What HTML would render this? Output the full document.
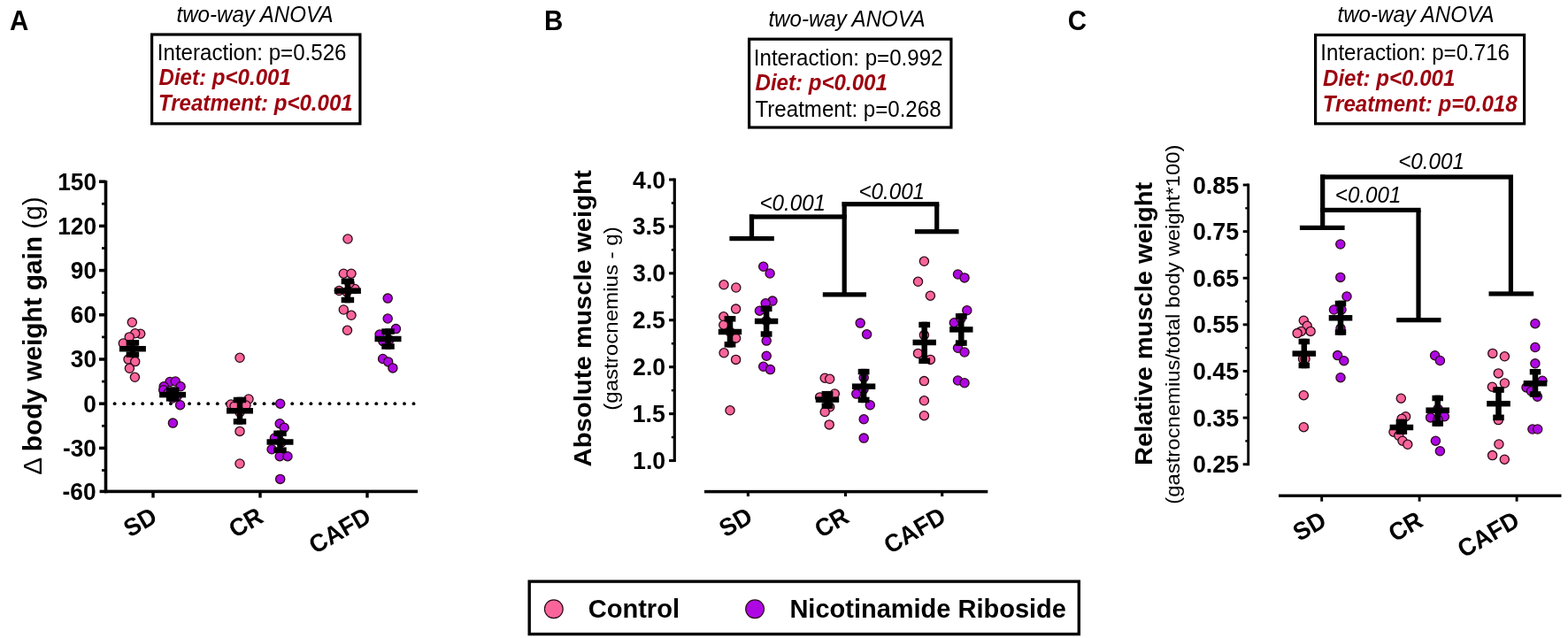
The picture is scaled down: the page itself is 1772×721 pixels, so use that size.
<!DOCTYPE html>
<html><head><meta charset="utf-8"><title>Figure</title>
<style>
html,body{margin:0;padding:0;background:#fff;}
body{width:1772px;height:721px;overflow:hidden;}
svg{display:block;}
text{font-family:"Liberation Sans", Arial, sans-serif;}
</style></head>
<body>
<svg width="1772" height="721" viewBox="0 0 1772 721">
<rect width="1772" height="721" fill="#fff"/>
<text transform="translate(11.06 34) scale(1 1.04)" font-size="29.5" font-weight="bold" font-style="normal" fill="#000">A</text>
<text transform="translate(615.08 34) scale(1 1.04)" font-size="29.5" font-weight="bold" font-style="normal" fill="#000">B</text>
<text transform="translate(1206.72 34.3) scale(1 1.04)" font-size="29.5" font-weight="bold" font-style="normal" fill="#000">C</text>
<text transform="translate(199.52 24.5) scale(1 1.04)" font-size="24.1" font-weight="normal" font-style="italic" fill="#000">two-way ANOVA</text>
<rect x="171.6" y="39" width="235.3" height="100.8" fill="none" stroke="#000" stroke-width="3.2"/>
<text transform="translate(177.83 68.3) scale(1 1.04)" font-size="24.1" font-weight="normal" font-style="normal" fill="#000">Interaction: p=0.526</text>
<text transform="translate(179.52 96) scale(1 1.04)" font-size="24.1" font-weight="bold" font-style="italic" fill="#9c000e">Diet: p&lt;0.001</text>
<text transform="translate(178.91 125.4) scale(1 1.04)" font-size="24.1" font-weight="bold" font-style="italic" fill="#9c000e">Treatment: p&lt;0.001</text>
<text transform="translate(868.42 30.2) scale(1 1.04)" font-size="24.1" font-weight="normal" font-style="italic" fill="#000">two-way ANOVA</text>
<rect x="846.6" y="44.2" width="228.3" height="99.8" fill="none" stroke="#000" stroke-width="3.2"/>
<text transform="translate(851.83 73.8) scale(1 1.04)" font-size="24.1" font-weight="normal" font-style="normal" fill="#000">Interaction: p=0.992</text>
<text transform="translate(853.52 102) scale(1 1.04)" font-size="24.1" font-weight="bold" font-style="italic" fill="#9c000e">Diet: p&lt;0.001</text>
<text transform="translate(853.52 131.9) scale(1 1.04)" font-size="24.1" font-weight="normal" font-style="normal" fill="#000">Treatment: p=0.268</text>
<text transform="translate(1511.52 25) scale(1 1.04)" font-size="24.1" font-weight="normal" font-style="italic" fill="#000">two-way ANOVA</text>
<rect x="1486.6" y="39.5" width="236" height="100.3" fill="none" stroke="#000" stroke-width="3.2"/>
<text transform="translate(1492.33 68.3) scale(1 1.04)" font-size="24.1" font-weight="normal" font-style="normal" fill="#000">Interaction: p=0.716</text>
<text transform="translate(1495.02 97.3) scale(1 1.04)" font-size="24.1" font-weight="bold" font-style="italic" fill="#9c000e">Diet: p&lt;0.001</text>
<text transform="translate(1494.81 126) scale(1 1.04)" font-size="24.1" font-weight="bold" font-style="italic" fill="#9c000e">Treatment: p=0.018</text>
<rect x="117.7" y="204" width="3.6" height="353.2" fill="#000"/>
<rect x="112" y="203.45" width="7.5" height="3.5" fill="#000"/>
<rect x="112" y="253.65" width="7.5" height="3.5" fill="#000"/>
<rect x="112" y="303.85" width="7.5" height="3.5" fill="#000"/>
<rect x="112" y="354.05" width="7.5" height="3.5" fill="#000"/>
<rect x="112" y="404.25" width="7.5" height="3.5" fill="#000"/>
<rect x="112" y="454.45" width="7.5" height="3.5" fill="#000"/>
<rect x="112" y="504.65" width="7.5" height="3.5" fill="#000"/>
<rect x="115" y="228.95" width="4.5" height="2.7" fill="#000"/>
<rect x="115" y="279.15" width="4.5" height="2.7" fill="#000"/>
<rect x="115" y="329.35" width="4.5" height="2.7" fill="#000"/>
<rect x="115" y="379.55" width="4.5" height="2.7" fill="#000"/>
<rect x="115" y="429.75" width="4.5" height="2.7" fill="#000"/>
<rect x="115" y="479.95" width="4.5" height="2.7" fill="#000"/>
<rect x="115" y="530.15" width="4.5" height="2.7" fill="#000"/>
<text transform="translate(65.16 214.57) scale(1 1.04)" font-size="26.3" font-weight="bold" font-style="normal" fill="#000">150</text>
<text transform="translate(65.16 264.77) scale(1 1.04)" font-size="26.3" font-weight="bold" font-style="normal" fill="#000">120</text>
<text transform="translate(79.76 314.97) scale(1 1.04)" font-size="26.3" font-weight="bold" font-style="normal" fill="#000">90</text>
<text transform="translate(79.76 365.17) scale(1 1.04)" font-size="26.3" font-weight="bold" font-style="normal" fill="#000">60</text>
<text transform="translate(79.76 415.37) scale(1 1.04)" font-size="26.3" font-weight="bold" font-style="normal" fill="#000">30</text>
<text transform="translate(94.36 465.57) scale(1 1.04)" font-size="26.3" font-weight="bold" font-style="normal" fill="#000">0</text>
<text transform="translate(70.95 515.77) scale(1 1.04)" font-size="26.3" font-weight="bold" font-style="normal" fill="#000">-30</text>
<text transform="translate(70.55 564.87) scale(1 1.04)" font-size="26.3" font-weight="bold" font-style="normal" fill="#000">-60</text>
<rect x="112.6" y="553.65" width="6.9" height="3.5" fill="#000"/>
<rect x="118" y="553.6" width="354" height="3.6" fill="#000"/>
<rect x="171.3" y="555.4" width="3.4" height="7.1" fill="#000"/>
<rect x="292.3" y="555.4" width="3.4" height="7.1" fill="#000"/>
<rect x="413.3" y="555.4" width="3.4" height="7.1" fill="#000"/>
<circle cx="129.6" cy="456.2" r="1.9" fill="#000"/>
<circle cx="140.16" cy="456.2" r="1.9" fill="#000"/>
<circle cx="150.72" cy="456.2" r="1.9" fill="#000"/>
<circle cx="161.28" cy="456.2" r="1.9" fill="#000"/>
<circle cx="171.84" cy="456.2" r="1.9" fill="#000"/>
<circle cx="182.4" cy="456.2" r="1.9" fill="#000"/>
<circle cx="192.96" cy="456.2" r="1.9" fill="#000"/>
<circle cx="203.52" cy="456.2" r="1.9" fill="#000"/>
<circle cx="214.08" cy="456.2" r="1.9" fill="#000"/>
<circle cx="224.64" cy="456.2" r="1.9" fill="#000"/>
<circle cx="235.2" cy="456.2" r="1.9" fill="#000"/>
<circle cx="245.76" cy="456.2" r="1.9" fill="#000"/>
<circle cx="256.32" cy="456.2" r="1.9" fill="#000"/>
<circle cx="266.88" cy="456.2" r="1.9" fill="#000"/>
<circle cx="277.44" cy="456.2" r="1.9" fill="#000"/>
<circle cx="288" cy="456.2" r="1.9" fill="#000"/>
<circle cx="298.56" cy="456.2" r="1.9" fill="#000"/>
<circle cx="309.12" cy="456.2" r="1.9" fill="#000"/>
<circle cx="319.68" cy="456.2" r="1.9" fill="#000"/>
<circle cx="330.24" cy="456.2" r="1.9" fill="#000"/>
<circle cx="340.8" cy="456.2" r="1.9" fill="#000"/>
<circle cx="351.36" cy="456.2" r="1.9" fill="#000"/>
<circle cx="361.92" cy="456.2" r="1.9" fill="#000"/>
<circle cx="372.48" cy="456.2" r="1.9" fill="#000"/>
<circle cx="383.04" cy="456.2" r="1.9" fill="#000"/>
<circle cx="393.6" cy="456.2" r="1.9" fill="#000"/>
<circle cx="404.16" cy="456.2" r="1.9" fill="#000"/>
<circle cx="414.72" cy="456.2" r="1.9" fill="#000"/>
<circle cx="425.28" cy="456.2" r="1.9" fill="#000"/>
<circle cx="435.84" cy="456.2" r="1.9" fill="#000"/>
<circle cx="446.4" cy="456.2" r="1.9" fill="#000"/>
<circle cx="456.96" cy="456.2" r="1.9" fill="#000"/>
<circle cx="467.52" cy="456.2" r="1.9" fill="#000"/>
<text transform="translate(179.3 589.12) rotate(-30) scale(1 1.04)" font-size="27" font-weight="bold" text-anchor="end">SD</text>
<text transform="translate(299.4 589.12) rotate(-30) scale(1 1.04)" font-size="27" font-weight="bold" text-anchor="end">CR</text>
<text transform="translate(421.2 589.12) rotate(-30) scale(1 1.04)" font-size="27" font-weight="bold" text-anchor="end">CAFD</text>
<rect x="760.7" y="201.5" width="3.2" height="320.5" fill="#000"/>
<rect x="756.1" y="201.45" width="6.2" height="3.1" fill="#000"/>
<rect x="756.1" y="254.38" width="6.2" height="3.1" fill="#000"/>
<rect x="756.1" y="307.3" width="6.2" height="3.1" fill="#000"/>
<rect x="756.1" y="360.22" width="6.2" height="3.1" fill="#000"/>
<rect x="756.1" y="413.15" width="6.2" height="3.1" fill="#000"/>
<rect x="756.1" y="466.07" width="6.2" height="3.1" fill="#000"/>
<rect x="756.1" y="519" width="6.2" height="3.1" fill="#000"/>
<rect x="758.8" y="228.21" width="3.5" height="2.5" fill="#000"/>
<rect x="758.8" y="281.14" width="3.5" height="2.5" fill="#000"/>
<rect x="758.8" y="334.06" width="3.5" height="2.5" fill="#000"/>
<rect x="758.8" y="386.99" width="3.5" height="2.5" fill="#000"/>
<rect x="758.8" y="439.91" width="3.5" height="2.5" fill="#000"/>
<rect x="758.8" y="492.84" width="3.5" height="2.5" fill="#000"/>
<text transform="translate(715.06 212.52) scale(1 1.04)" font-size="26.7" font-weight="bold" font-style="normal" fill="#000">4.0</text>
<text transform="translate(714.65 265.44) scale(1 1.04)" font-size="26.7" font-weight="bold" font-style="normal" fill="#000">3.5</text>
<text transform="translate(715.06 318.37) scale(1 1.04)" font-size="26.7" font-weight="bold" font-style="normal" fill="#000">3.0</text>
<text transform="translate(714.65 371.29) scale(1 1.04)" font-size="26.7" font-weight="bold" font-style="normal" fill="#000">2.5</text>
<text transform="translate(715.06 424.22) scale(1 1.04)" font-size="26.7" font-weight="bold" font-style="normal" fill="#000">2.0</text>
<text transform="translate(714.65 477) scale(1 1.04)" font-size="26.7" font-weight="bold" font-style="normal" fill="#000">1.5</text>
<text transform="translate(715.06 530.07) scale(1 1.04)" font-size="26.7" font-weight="bold" font-style="normal" fill="#000">1.0</text>
<rect x="796" y="553.85" width="320.3" height="3.5" fill="#000"/>
<rect x="843.85" y="555.6" width="3.1" height="5.4" fill="#000"/>
<rect x="953.95" y="555.6" width="3.1" height="5.4" fill="#000"/>
<rect x="1063.15" y="555.6" width="3.1" height="5.4" fill="#000"/>
<text transform="translate(852.3 589.12) rotate(-30) scale(1 1.04)" font-size="27" font-weight="bold" text-anchor="end">SD</text>
<text transform="translate(961.4 589.12) rotate(-30) scale(1 1.04)" font-size="27" font-weight="bold" text-anchor="end">CR</text>
<text transform="translate(1070.8 589.12) rotate(-30) scale(1 1.04)" font-size="27" font-weight="bold" text-anchor="end">CAFD</text>
<rect x="1409.25" y="207.5" width="2.9" height="318.7" fill="#000"/>
<rect x="1404.7" y="207.55" width="6" height="2.9" fill="#000"/>
<rect x="1404.7" y="260.17" width="6" height="2.9" fill="#000"/>
<rect x="1404.7" y="312.79" width="6" height="2.9" fill="#000"/>
<rect x="1404.7" y="365.41" width="6" height="2.9" fill="#000"/>
<rect x="1404.7" y="418.03" width="6" height="2.9" fill="#000"/>
<rect x="1404.7" y="470.65" width="6" height="2.9" fill="#000"/>
<rect x="1404.7" y="523.27" width="6" height="2.9" fill="#000"/>
<rect x="1407.3" y="234.16" width="3.4" height="2.3" fill="#000"/>
<rect x="1407.3" y="286.78" width="3.4" height="2.3" fill="#000"/>
<rect x="1407.3" y="339.4" width="3.4" height="2.3" fill="#000"/>
<rect x="1407.3" y="392.02" width="3.4" height="2.3" fill="#000"/>
<rect x="1407.3" y="444.64" width="3.4" height="2.3" fill="#000"/>
<rect x="1407.3" y="497.26" width="3.4" height="2.3" fill="#000"/>
<text transform="translate(1347.94 218.56) scale(1 1.04)" font-size="26.8" font-weight="bold" font-style="normal" fill="#000">0.85</text>
<text transform="translate(1347.94 271.18) scale(1 1.04)" font-size="26.8" font-weight="bold" font-style="normal" fill="#000">0.75</text>
<text transform="translate(1347.94 323.8) scale(1 1.04)" font-size="26.8" font-weight="bold" font-style="normal" fill="#000">0.65</text>
<text transform="translate(1347.94 376.42) scale(1 1.04)" font-size="26.8" font-weight="bold" font-style="normal" fill="#000">0.55</text>
<text transform="translate(1347.94 429.04) scale(1 1.04)" font-size="26.8" font-weight="bold" font-style="normal" fill="#000">0.45</text>
<text transform="translate(1347.94 481.66) scale(1 1.04)" font-size="26.8" font-weight="bold" font-style="normal" fill="#000">0.35</text>
<text transform="translate(1347.94 534.28) scale(1 1.04)" font-size="26.8" font-weight="bold" font-style="normal" fill="#000">0.25</text>
<rect x="1445" y="558.55" width="319.5" height="3.3" fill="#000"/>
<rect x="1492.25" y="560.2" width="2.9" height="6.5" fill="#000"/>
<rect x="1602.65" y="560.2" width="2.9" height="6.5" fill="#000"/>
<rect x="1712.65" y="560.2" width="2.9" height="6.5" fill="#000"/>
<text transform="translate(1500.8 593.62) rotate(-30) scale(1 1.04)" font-size="27" font-weight="bold" text-anchor="end">SD</text>
<text transform="translate(1609.9 593.62) rotate(-30) scale(1 1.04)" font-size="27" font-weight="bold" text-anchor="end">CR</text>
<text transform="translate(1719.2 593.62) rotate(-30) scale(1 1.04)" font-size="27" font-weight="bold" text-anchor="end">CAFD</text>
<text transform="translate(46.6 379.5) rotate(-90) scale(1 0.96)" font-size="29.8" text-anchor="middle" style="white-space:pre"><tspan font-weight="normal">Δ </tspan><tspan font-weight="bold">body weight gain </tspan><tspan font-weight="normal">(g)</tspan></text>
<text transform="translate(668.3 359.9) rotate(-90) scale(1 0.96)" font-size="29.3" text-anchor="middle" style="white-space:pre"><tspan font-weight="bold">Absolute muscle weight</tspan></text>
<text transform="translate(697.6 360) rotate(-90) scale(1 0.92)" font-size="24.1" text-anchor="middle" style="white-space:pre"><tspan font-weight="normal">(gastrocnemius - g)</tspan></text>
<text transform="translate(1302 365.9) rotate(-90) scale(1 0.96)" font-size="29.1" text-anchor="middle" style="white-space:pre"><tspan font-weight="bold">Relative muscle weight</tspan></text>
<text transform="translate(1333.3 366.6) rotate(-90) scale(1 0.93)" font-size="23.9" text-anchor="middle" style="white-space:pre"><tspan font-weight="normal">(gastrocnemius/total body weight*100)</tspan></text>
<circle cx="149.3" cy="364.3" r="5.1" fill="#f9659a" stroke="#2a0a18" stroke-width="1.3"/>
<circle cx="158.7" cy="377.2" r="5.1" fill="#f9659a" stroke="#2a0a18" stroke-width="1.3"/>
<circle cx="152.7" cy="376.8" r="5.1" fill="#f9659a" stroke="#2a0a18" stroke-width="1.3"/>
<circle cx="146.2" cy="380.9" r="5.1" fill="#f9659a" stroke="#2a0a18" stroke-width="1.3"/>
<circle cx="139.3" cy="388" r="5.1" fill="#f9659a" stroke="#2a0a18" stroke-width="1.3"/>
<circle cx="145" cy="406.1" r="5.1" fill="#f9659a" stroke="#2a0a18" stroke-width="1.3"/>
<circle cx="152.7" cy="408.6" r="5.1" fill="#f9659a" stroke="#2a0a18" stroke-width="1.3"/>
<circle cx="146.4" cy="416.3" r="5.1" fill="#f9659a" stroke="#2a0a18" stroke-width="1.3"/>
<circle cx="152.4" cy="426.3" r="5.1" fill="#f9659a" stroke="#2a0a18" stroke-width="1.3"/>
<circle cx="150" cy="392" r="5.1" fill="#f9659a" stroke="#2a0a18" stroke-width="1.3"/>
<circle cx="192" cy="431.5" r="5.1" fill="#ae07e4" stroke="#2a0a18" stroke-width="1.3"/>
<circle cx="198.3" cy="431" r="5.1" fill="#ae07e4" stroke="#2a0a18" stroke-width="1.3"/>
<circle cx="204.1" cy="436.8" r="5.1" fill="#ae07e4" stroke="#2a0a18" stroke-width="1.3"/>
<circle cx="185.2" cy="436.8" r="5.1" fill="#ae07e4" stroke="#2a0a18" stroke-width="1.3"/>
<circle cx="184.7" cy="440.7" r="5.1" fill="#ae07e4" stroke="#2a0a18" stroke-width="1.3"/>
<circle cx="203.6" cy="457.7" r="5.1" fill="#ae07e4" stroke="#2a0a18" stroke-width="1.3"/>
<circle cx="195.4" cy="478.1" r="5.1" fill="#ae07e4" stroke="#2a0a18" stroke-width="1.3"/>
<circle cx="190" cy="444" r="5.1" fill="#ae07e4" stroke="#2a0a18" stroke-width="1.3"/>
<circle cx="200" cy="448" r="5.1" fill="#ae07e4" stroke="#2a0a18" stroke-width="1.3"/>
<circle cx="195" cy="450" r="5.1" fill="#ae07e4" stroke="#2a0a18" stroke-width="1.3"/>
<circle cx="271" cy="404.3" r="5.1" fill="#f9659a" stroke="#2a0a18" stroke-width="1.3"/>
<circle cx="281" cy="451" r="5.1" fill="#f9659a" stroke="#2a0a18" stroke-width="1.3"/>
<circle cx="261" cy="457" r="5.1" fill="#f9659a" stroke="#2a0a18" stroke-width="1.3"/>
<circle cx="265" cy="459" r="5.1" fill="#f9659a" stroke="#2a0a18" stroke-width="1.3"/>
<circle cx="278" cy="458" r="5.1" fill="#f9659a" stroke="#2a0a18" stroke-width="1.3"/>
<circle cx="271" cy="487.4" r="5.1" fill="#f9659a" stroke="#2a0a18" stroke-width="1.3"/>
<circle cx="271" cy="524" r="5.1" fill="#f9659a" stroke="#2a0a18" stroke-width="1.3"/>
<circle cx="271" cy="466" r="5.1" fill="#f9659a" stroke="#2a0a18" stroke-width="1.3"/>
<circle cx="316.7" cy="456.2" r="5.1" fill="#ae07e4" stroke="#2a0a18" stroke-width="1.3"/>
<circle cx="316.2" cy="478.7" r="5.1" fill="#ae07e4" stroke="#2a0a18" stroke-width="1.3"/>
<circle cx="321.2" cy="483.3" r="5.1" fill="#ae07e4" stroke="#2a0a18" stroke-width="1.3"/>
<circle cx="310.4" cy="495" r="5.1" fill="#ae07e4" stroke="#2a0a18" stroke-width="1.3"/>
<circle cx="307.1" cy="507.8" r="5.1" fill="#ae07e4" stroke="#2a0a18" stroke-width="1.3"/>
<circle cx="316.2" cy="515.7" r="5.1" fill="#ae07e4" stroke="#2a0a18" stroke-width="1.3"/>
<circle cx="325" cy="515.7" r="5.1" fill="#ae07e4" stroke="#2a0a18" stroke-width="1.3"/>
<circle cx="316.7" cy="541.4" r="5.1" fill="#ae07e4" stroke="#2a0a18" stroke-width="1.3"/>
<circle cx="318" cy="500" r="5.1" fill="#ae07e4" stroke="#2a0a18" stroke-width="1.3"/>
<circle cx="393" cy="270" r="5.1" fill="#f9659a" stroke="#2a0a18" stroke-width="1.3"/>
<circle cx="388.3" cy="309.2" r="5.1" fill="#f9659a" stroke="#2a0a18" stroke-width="1.3"/>
<circle cx="397" cy="309.2" r="5.1" fill="#f9659a" stroke="#2a0a18" stroke-width="1.3"/>
<circle cx="401" cy="326.5" r="5.1" fill="#f9659a" stroke="#2a0a18" stroke-width="1.3"/>
<circle cx="383.3" cy="328.5" r="5.1" fill="#f9659a" stroke="#2a0a18" stroke-width="1.3"/>
<circle cx="388.3" cy="350" r="5.1" fill="#f9659a" stroke="#2a0a18" stroke-width="1.3"/>
<circle cx="397" cy="356.3" r="5.1" fill="#f9659a" stroke="#2a0a18" stroke-width="1.3"/>
<circle cx="392.5" cy="373.3" r="5.1" fill="#f9659a" stroke="#2a0a18" stroke-width="1.3"/>
<circle cx="392" cy="330" r="5.1" fill="#f9659a" stroke="#2a0a18" stroke-width="1.3"/>
<circle cx="395" cy="320" r="5.1" fill="#f9659a" stroke="#2a0a18" stroke-width="1.3"/>
<circle cx="438.2" cy="337.1" r="5.1" fill="#ae07e4" stroke="#2a0a18" stroke-width="1.3"/>
<circle cx="438.2" cy="360" r="5.1" fill="#ae07e4" stroke="#2a0a18" stroke-width="1.3"/>
<circle cx="447.4" cy="371.6" r="5.1" fill="#ae07e4" stroke="#2a0a18" stroke-width="1.3"/>
<circle cx="429.1" cy="378" r="5.1" fill="#ae07e4" stroke="#2a0a18" stroke-width="1.3"/>
<circle cx="432.9" cy="385.6" r="5.1" fill="#ae07e4" stroke="#2a0a18" stroke-width="1.3"/>
<circle cx="432.6" cy="405.5" r="5.1" fill="#ae07e4" stroke="#2a0a18" stroke-width="1.3"/>
<circle cx="438.7" cy="408.9" r="5.1" fill="#ae07e4" stroke="#2a0a18" stroke-width="1.3"/>
<circle cx="443.9" cy="415.9" r="5.1" fill="#ae07e4" stroke="#2a0a18" stroke-width="1.3"/>
<circle cx="440" cy="384" r="5.1" fill="#ae07e4" stroke="#2a0a18" stroke-width="1.3"/>
<circle cx="818" cy="321.8" r="5.1" fill="#f9659a" stroke="#2a0a18" stroke-width="1.3"/>
<circle cx="831.8" cy="325" r="5.1" fill="#f9659a" stroke="#2a0a18" stroke-width="1.3"/>
<circle cx="831.6" cy="349.1" r="5.1" fill="#f9659a" stroke="#2a0a18" stroke-width="1.3"/>
<circle cx="817.8" cy="357.8" r="5.1" fill="#f9659a" stroke="#2a0a18" stroke-width="1.3"/>
<circle cx="817.8" cy="367.2" r="5.1" fill="#f9659a" stroke="#2a0a18" stroke-width="1.3"/>
<circle cx="831.6" cy="382.2" r="5.1" fill="#f9659a" stroke="#2a0a18" stroke-width="1.3"/>
<circle cx="818.1" cy="398.8" r="5.1" fill="#f9659a" stroke="#2a0a18" stroke-width="1.3"/>
<circle cx="831.6" cy="406.4" r="5.1" fill="#f9659a" stroke="#2a0a18" stroke-width="1.3"/>
<circle cx="825" cy="463.8" r="5.1" fill="#f9659a" stroke="#2a0a18" stroke-width="1.3"/>
<circle cx="825" cy="375" r="5.1" fill="#f9659a" stroke="#2a0a18" stroke-width="1.3"/>
<circle cx="862.7" cy="301.3" r="5.1" fill="#ae07e4" stroke="#2a0a18" stroke-width="1.3"/>
<circle cx="870.1" cy="309" r="5.1" fill="#ae07e4" stroke="#2a0a18" stroke-width="1.3"/>
<circle cx="873" cy="340.1" r="5.1" fill="#ae07e4" stroke="#2a0a18" stroke-width="1.3"/>
<circle cx="865.2" cy="342.8" r="5.1" fill="#ae07e4" stroke="#2a0a18" stroke-width="1.3"/>
<circle cx="858.4" cy="351.2" r="5.1" fill="#ae07e4" stroke="#2a0a18" stroke-width="1.3"/>
<circle cx="866.2" cy="385.1" r="5.1" fill="#ae07e4" stroke="#2a0a18" stroke-width="1.3"/>
<circle cx="866.2" cy="402.2" r="5.1" fill="#ae07e4" stroke="#2a0a18" stroke-width="1.3"/>
<circle cx="862.7" cy="414.3" r="5.1" fill="#ae07e4" stroke="#2a0a18" stroke-width="1.3"/>
<circle cx="870.5" cy="417.6" r="5.1" fill="#ae07e4" stroke="#2a0a18" stroke-width="1.3"/>
<circle cx="866" cy="362.5" r="5.1" fill="#ae07e4" stroke="#2a0a18" stroke-width="1.3"/>
<circle cx="932.2" cy="427.2" r="5.1" fill="#f9659a" stroke="#2a0a18" stroke-width="1.3"/>
<circle cx="937.7" cy="428.3" r="5.1" fill="#f9659a" stroke="#2a0a18" stroke-width="1.3"/>
<circle cx="943.3" cy="445" r="5.1" fill="#f9659a" stroke="#2a0a18" stroke-width="1.3"/>
<circle cx="926.6" cy="448.9" r="5.1" fill="#f9659a" stroke="#2a0a18" stroke-width="1.3"/>
<circle cx="937.7" cy="460" r="5.1" fill="#f9659a" stroke="#2a0a18" stroke-width="1.3"/>
<circle cx="932.2" cy="465.5" r="5.1" fill="#f9659a" stroke="#2a0a18" stroke-width="1.3"/>
<circle cx="937.2" cy="479.9" r="5.1" fill="#f9659a" stroke="#2a0a18" stroke-width="1.3"/>
<circle cx="935" cy="452" r="5.1" fill="#f9659a" stroke="#2a0a18" stroke-width="1.3"/>
<circle cx="972.2" cy="365.1" r="5.1" fill="#ae07e4" stroke="#2a0a18" stroke-width="1.3"/>
<circle cx="979.6" cy="377.8" r="5.1" fill="#ae07e4" stroke="#2a0a18" stroke-width="1.3"/>
<circle cx="976.2" cy="426.7" r="5.1" fill="#ae07e4" stroke="#2a0a18" stroke-width="1.3"/>
<circle cx="967.8" cy="445.1" r="5.1" fill="#ae07e4" stroke="#2a0a18" stroke-width="1.3"/>
<circle cx="983.3" cy="457.8" r="5.1" fill="#ae07e4" stroke="#2a0a18" stroke-width="1.3"/>
<circle cx="976.2" cy="473.8" r="5.1" fill="#ae07e4" stroke="#2a0a18" stroke-width="1.3"/>
<circle cx="976.2" cy="495.1" r="5.1" fill="#ae07e4" stroke="#2a0a18" stroke-width="1.3"/>
<circle cx="976" cy="440" r="5.1" fill="#ae07e4" stroke="#2a0a18" stroke-width="1.3"/>
<circle cx="1044.4" cy="295.3" r="5.1" fill="#f9659a" stroke="#2a0a18" stroke-width="1.3"/>
<circle cx="1037.5" cy="318.3" r="5.1" fill="#f9659a" stroke="#2a0a18" stroke-width="1.3"/>
<circle cx="1051.4" cy="334.2" r="5.1" fill="#f9659a" stroke="#2a0a18" stroke-width="1.3"/>
<circle cx="1044.4" cy="378.6" r="5.1" fill="#f9659a" stroke="#2a0a18" stroke-width="1.3"/>
<circle cx="1037.5" cy="399.4" r="5.1" fill="#f9659a" stroke="#2a0a18" stroke-width="1.3"/>
<circle cx="1051.4" cy="406.4" r="5.1" fill="#f9659a" stroke="#2a0a18" stroke-width="1.3"/>
<circle cx="1044.4" cy="430.6" r="5.1" fill="#f9659a" stroke="#2a0a18" stroke-width="1.3"/>
<circle cx="1044.4" cy="452.8" r="5.1" fill="#f9659a" stroke="#2a0a18" stroke-width="1.3"/>
<circle cx="1044.4" cy="469.7" r="5.1" fill="#f9659a" stroke="#2a0a18" stroke-width="1.3"/>
<circle cx="1082.5" cy="310" r="5.1" fill="#ae07e4" stroke="#2a0a18" stroke-width="1.3"/>
<circle cx="1090" cy="313.9" r="5.1" fill="#ae07e4" stroke="#2a0a18" stroke-width="1.3"/>
<circle cx="1092.8" cy="350.8" r="5.1" fill="#ae07e4" stroke="#2a0a18" stroke-width="1.3"/>
<circle cx="1078.3" cy="364.7" r="5.1" fill="#ae07e4" stroke="#2a0a18" stroke-width="1.3"/>
<circle cx="1082.5" cy="393.3" r="5.1" fill="#ae07e4" stroke="#2a0a18" stroke-width="1.3"/>
<circle cx="1090" cy="398" r="5.1" fill="#ae07e4" stroke="#2a0a18" stroke-width="1.3"/>
<circle cx="1082.5" cy="430" r="5.1" fill="#ae07e4" stroke="#2a0a18" stroke-width="1.3"/>
<circle cx="1090" cy="432.8" r="5.1" fill="#ae07e4" stroke="#2a0a18" stroke-width="1.3"/>
<circle cx="1086" cy="360" r="5.1" fill="#ae07e4" stroke="#2a0a18" stroke-width="1.3"/>
<circle cx="1473.3" cy="362.2" r="5.1" fill="#f9659a" stroke="#2a0a18" stroke-width="1.3"/>
<circle cx="1477.2" cy="368.3" r="5.1" fill="#f9659a" stroke="#2a0a18" stroke-width="1.3"/>
<circle cx="1481.1" cy="374.4" r="5.1" fill="#f9659a" stroke="#2a0a18" stroke-width="1.3"/>
<circle cx="1470.5" cy="374.4" r="5.1" fill="#f9659a" stroke="#2a0a18" stroke-width="1.3"/>
<circle cx="1466.1" cy="376.6" r="5.1" fill="#f9659a" stroke="#2a0a18" stroke-width="1.3"/>
<circle cx="1472.5" cy="405.5" r="5.1" fill="#f9659a" stroke="#2a0a18" stroke-width="1.3"/>
<circle cx="1475" cy="405.5" r="5.1" fill="#f9659a" stroke="#2a0a18" stroke-width="1.3"/>
<circle cx="1473.3" cy="446.7" r="5.1" fill="#f9659a" stroke="#2a0a18" stroke-width="1.3"/>
<circle cx="1473.3" cy="482.7" r="5.1" fill="#f9659a" stroke="#2a0a18" stroke-width="1.3"/>
<circle cx="1514.8" cy="276" r="5.1" fill="#ae07e4" stroke="#2a0a18" stroke-width="1.3"/>
<circle cx="1514.8" cy="313.4" r="5.1" fill="#ae07e4" stroke="#2a0a18" stroke-width="1.3"/>
<circle cx="1522" cy="335" r="5.1" fill="#ae07e4" stroke="#2a0a18" stroke-width="1.3"/>
<circle cx="1507.5" cy="350" r="5.1" fill="#ae07e4" stroke="#2a0a18" stroke-width="1.3"/>
<circle cx="1516" cy="350" r="5.1" fill="#ae07e4" stroke="#2a0a18" stroke-width="1.3"/>
<circle cx="1511.6" cy="401.6" r="5.1" fill="#ae07e4" stroke="#2a0a18" stroke-width="1.3"/>
<circle cx="1518.8" cy="407.7" r="5.1" fill="#ae07e4" stroke="#2a0a18" stroke-width="1.3"/>
<circle cx="1515" cy="426.7" r="5.1" fill="#ae07e4" stroke="#2a0a18" stroke-width="1.3"/>
<circle cx="1515" cy="371" r="5.1" fill="#ae07e4" stroke="#2a0a18" stroke-width="1.3"/>
<circle cx="1583.3" cy="450.2" r="5.1" fill="#f9659a" stroke="#2a0a18" stroke-width="1.3"/>
<circle cx="1588.6" cy="470.7" r="5.1" fill="#f9659a" stroke="#2a0a18" stroke-width="1.3"/>
<circle cx="1584.1" cy="473.2" r="5.1" fill="#f9659a" stroke="#2a0a18" stroke-width="1.3"/>
<circle cx="1575" cy="488.2" r="5.1" fill="#f9659a" stroke="#2a0a18" stroke-width="1.3"/>
<circle cx="1580.8" cy="492.3" r="5.1" fill="#f9659a" stroke="#2a0a18" stroke-width="1.3"/>
<circle cx="1585" cy="498.2" r="5.1" fill="#f9659a" stroke="#2a0a18" stroke-width="1.3"/>
<circle cx="1590.8" cy="502.3" r="5.1" fill="#f9659a" stroke="#2a0a18" stroke-width="1.3"/>
<circle cx="1583" cy="482" r="5.1" fill="#f9659a" stroke="#2a0a18" stroke-width="1.3"/>
<circle cx="1621.6" cy="401.7" r="5.1" fill="#ae07e4" stroke="#2a0a18" stroke-width="1.3"/>
<circle cx="1627.4" cy="407.5" r="5.1" fill="#ae07e4" stroke="#2a0a18" stroke-width="1.3"/>
<circle cx="1616.6" cy="471.9" r="5.1" fill="#ae07e4" stroke="#2a0a18" stroke-width="1.3"/>
<circle cx="1632.4" cy="470.7" r="5.1" fill="#ae07e4" stroke="#2a0a18" stroke-width="1.3"/>
<circle cx="1625" cy="474" r="5.1" fill="#ae07e4" stroke="#2a0a18" stroke-width="1.3"/>
<circle cx="1622.4" cy="498.2" r="5.1" fill="#ae07e4" stroke="#2a0a18" stroke-width="1.3"/>
<circle cx="1627.4" cy="509.8" r="5.1" fill="#ae07e4" stroke="#2a0a18" stroke-width="1.3"/>
<circle cx="1625" cy="462" r="5.1" fill="#ae07e4" stroke="#2a0a18" stroke-width="1.3"/>
<circle cx="1686.8" cy="399.4" r="5.1" fill="#f9659a" stroke="#2a0a18" stroke-width="1.3"/>
<circle cx="1700.4" cy="402.8" r="5.1" fill="#f9659a" stroke="#2a0a18" stroke-width="1.3"/>
<circle cx="1693.3" cy="421.9" r="5.1" fill="#f9659a" stroke="#2a0a18" stroke-width="1.3"/>
<circle cx="1700.4" cy="433" r="5.1" fill="#f9659a" stroke="#2a0a18" stroke-width="1.3"/>
<circle cx="1686.4" cy="437.2" r="5.1" fill="#f9659a" stroke="#2a0a18" stroke-width="1.3"/>
<circle cx="1693.3" cy="474.6" r="5.1" fill="#f9659a" stroke="#2a0a18" stroke-width="1.3"/>
<circle cx="1693.9" cy="502" r="5.1" fill="#f9659a" stroke="#2a0a18" stroke-width="1.3"/>
<circle cx="1686.6" cy="514.6" r="5.1" fill="#f9659a" stroke="#2a0a18" stroke-width="1.3"/>
<circle cx="1700.3" cy="519.2" r="5.1" fill="#f9659a" stroke="#2a0a18" stroke-width="1.3"/>
<circle cx="1734.9" cy="365.7" r="5.1" fill="#ae07e4" stroke="#2a0a18" stroke-width="1.3"/>
<circle cx="1734.9" cy="392.5" r="5.1" fill="#ae07e4" stroke="#2a0a18" stroke-width="1.3"/>
<circle cx="1734.9" cy="410.8" r="5.1" fill="#ae07e4" stroke="#2a0a18" stroke-width="1.3"/>
<circle cx="1743" cy="430.2" r="5.1" fill="#ae07e4" stroke="#2a0a18" stroke-width="1.3"/>
<circle cx="1725" cy="437.9" r="5.1" fill="#ae07e4" stroke="#2a0a18" stroke-width="1.3"/>
<circle cx="1730.5" cy="442" r="5.1" fill="#ae07e4" stroke="#2a0a18" stroke-width="1.3"/>
<circle cx="1737.4" cy="448.3" r="5.1" fill="#ae07e4" stroke="#2a0a18" stroke-width="1.3"/>
<circle cx="1731.9" cy="485" r="5.1" fill="#ae07e4" stroke="#2a0a18" stroke-width="1.3"/>
<circle cx="1737.7" cy="485" r="5.1" fill="#ae07e4" stroke="#2a0a18" stroke-width="1.3"/>
<rect x="146.65" y="384.05" width="6.5" height="19.8" fill="#000"/>
<rect x="142.65" y="384.05" width="14.5" height="6.5" fill="#000"/>
<rect x="142.65" y="397.35" width="14.5" height="6.5" fill="#000"/>
<rect x="134.9" y="390.95" width="30" height="6.5" fill="#000"/>
<rect x="191.85" y="437.55" width="6.5" height="16" fill="#000"/>
<rect x="187.85" y="437.55" width="14.5" height="6.5" fill="#000"/>
<rect x="187.85" y="447.05" width="14.5" height="6.5" fill="#000"/>
<rect x="180.1" y="442.85" width="30" height="6.5" fill="#000"/>
<rect x="267.75" y="448.75" width="6.5" height="30.9" fill="#000"/>
<rect x="263.75" y="448.75" width="14.5" height="6.5" fill="#000"/>
<rect x="263.75" y="473.15" width="14.5" height="6.5" fill="#000"/>
<rect x="256" y="461.05" width="30" height="6.5" fill="#000"/>
<rect x="313.25" y="486.55" width="6.5" height="25.4" fill="#000"/>
<rect x="309.25" y="486.55" width="14.5" height="6.5" fill="#000"/>
<rect x="309.25" y="505.45" width="14.5" height="6.5" fill="#000"/>
<rect x="301.5" y="496.25" width="30" height="6.5" fill="#000"/>
<rect x="389.65" y="314.75" width="6.5" height="27.5" fill="#000"/>
<rect x="385.65" y="314.75" width="14.5" height="6.5" fill="#000"/>
<rect x="385.65" y="335.75" width="14.5" height="6.5" fill="#000"/>
<rect x="377.9" y="325.45" width="30" height="6.5" fill="#000"/>
<rect x="435.25" y="371.35" width="6.5" height="23.4" fill="#000"/>
<rect x="431.25" y="371.35" width="14.5" height="6.5" fill="#000"/>
<rect x="431.25" y="388.25" width="14.5" height="6.5" fill="#000"/>
<rect x="423.5" y="379.75" width="30" height="6.5" fill="#000"/>
<rect x="821.75" y="357.05" width="6.5" height="35.5" fill="#000"/>
<rect x="818.6" y="357.05" width="12.8" height="6.5" fill="#000"/>
<rect x="818.6" y="386.05" width="12.8" height="6.5" fill="#000"/>
<rect x="811.8" y="371.75" width="26.4" height="6.5" fill="#000"/>
<rect x="862.85" y="345.65" width="6.5" height="35.1" fill="#000"/>
<rect x="859.7" y="345.65" width="12.8" height="6.5" fill="#000"/>
<rect x="859.7" y="374.25" width="12.8" height="6.5" fill="#000"/>
<rect x="852.9" y="359.75" width="26.4" height="6.5" fill="#000"/>
<rect x="931.75" y="441.95" width="6.5" height="19.9" fill="#000"/>
<rect x="928.6" y="441.95" width="12.8" height="6.5" fill="#000"/>
<rect x="928.6" y="455.35" width="12.8" height="6.5" fill="#000"/>
<rect x="921.8" y="448.35" width="26.4" height="6.5" fill="#000"/>
<rect x="972.85" y="416.85" width="6.5" height="38.3" fill="#000"/>
<rect x="969.7" y="416.85" width="12.8" height="6.5" fill="#000"/>
<rect x="969.7" y="448.65" width="12.8" height="6.5" fill="#000"/>
<rect x="962.9" y="433.45" width="26.4" height="6.5" fill="#000"/>
<rect x="1041.45" y="363.75" width="6.5" height="47.3" fill="#000"/>
<rect x="1038.3" y="363.75" width="12.8" height="6.5" fill="#000"/>
<rect x="1038.3" y="404.55" width="12.8" height="6.5" fill="#000"/>
<rect x="1031.5" y="383.75" width="26.4" height="6.5" fill="#000"/>
<rect x="1083.05" y="354.15" width="6.5" height="36.7" fill="#000"/>
<rect x="1079.9" y="354.15" width="12.8" height="6.5" fill="#000"/>
<rect x="1079.9" y="384.35" width="12.8" height="6.5" fill="#000"/>
<rect x="1073.1" y="369.15" width="26.4" height="6.5" fill="#000"/>
<rect x="1470.55" y="382.75" width="6.5" height="33.5" fill="#000"/>
<rect x="1467.55" y="382.75" width="12.5" height="6.5" fill="#000"/>
<rect x="1467.55" y="409.75" width="12.5" height="6.5" fill="#000"/>
<rect x="1460.5" y="396.35" width="26.6" height="6.5" fill="#000"/>
<rect x="1511.75" y="339.75" width="6.5" height="39" fill="#000"/>
<rect x="1508.75" y="339.75" width="12.5" height="6.5" fill="#000"/>
<rect x="1508.75" y="372.25" width="12.5" height="6.5" fill="#000"/>
<rect x="1501.7" y="356.05" width="26.6" height="6.5" fill="#000"/>
<rect x="1580.65" y="473.75" width="6.5" height="17.2" fill="#000"/>
<rect x="1577.65" y="473.75" width="12.5" height="6.5" fill="#000"/>
<rect x="1577.65" y="484.45" width="12.5" height="6.5" fill="#000"/>
<rect x="1570.6" y="479.75" width="26.6" height="6.5" fill="#000"/>
<rect x="1621.45" y="446.75" width="6.5" height="35.1" fill="#000"/>
<rect x="1618.45" y="446.75" width="12.5" height="6.5" fill="#000"/>
<rect x="1618.45" y="475.35" width="12.5" height="6.5" fill="#000"/>
<rect x="1611.4" y="460.45" width="26.6" height="6.5" fill="#000"/>
<rect x="1690.25" y="437.35" width="6.5" height="37.7" fill="#000"/>
<rect x="1687.25" y="437.35" width="12.5" height="6.5" fill="#000"/>
<rect x="1687.25" y="468.55" width="12.5" height="6.5" fill="#000"/>
<rect x="1680.2" y="452.95" width="26.6" height="6.5" fill="#000"/>
<rect x="1731.75" y="416.95" width="6.5" height="31.8" fill="#000"/>
<rect x="1728.75" y="416.95" width="12.5" height="6.5" fill="#000"/>
<rect x="1728.75" y="442.25" width="12.5" height="6.5" fill="#000"/>
<rect x="1721.7" y="430.05" width="26.6" height="6.5" fill="#000"/>
<rect x="824.4" y="267" width="50.4" height="5.2" fill="#000"/>
<rect x="846.9" y="242.4" width="5.2" height="27.2" fill="#000"/>
<rect x="846.9" y="242.4" width="109.9" height="5.2" fill="#000"/>
<rect x="951.6" y="228.1" width="5.2" height="104.8" fill="#000"/>
<rect x="929.8" y="330.3" width="49.2" height="5.2" fill="#000"/>
<rect x="951.6" y="228.1" width="109.7" height="5.2" fill="#000"/>
<rect x="1056.1" y="230.7" width="5.2" height="31" fill="#000"/>
<rect x="1033.9" y="259.1" width="49.6" height="5.2" fill="#000"/>
<text transform="translate(858.43 238.4) scale(1 1.04)" font-size="24.2" font-weight="normal" font-style="italic" fill="#000">&lt;0.001</text>
<text transform="translate(970.43 225) scale(1 1.04)" font-size="24.2" font-weight="normal" font-style="italic" fill="#000">&lt;0.001</text>
<rect x="1468.9" y="254.8" width="50.7" height="5.2" fill="#000"/>
<rect x="1492.1" y="197.4" width="5.2" height="60" fill="#000"/>
<rect x="1492.1" y="197.4" width="217.9" height="5.2" fill="#000"/>
<rect x="1704.8" y="200" width="5.2" height="132" fill="#000"/>
<rect x="1682.5" y="329.4" width="50.7" height="5.2" fill="#000"/>
<rect x="1492.1" y="234.8" width="113.5" height="5.2" fill="#000"/>
<rect x="1600.4" y="237.4" width="5.2" height="124.3" fill="#000"/>
<rect x="1578.2" y="359.1" width="50.3" height="5.2" fill="#000"/>
<text transform="translate(1580.23 191.4) scale(1 1.04)" font-size="24.2" font-weight="normal" font-style="italic" fill="#000">&lt;0.001</text>
<text transform="translate(1508.83 228.7) scale(1 1.04)" font-size="24.2" font-weight="normal" font-style="italic" fill="#000">&lt;0.001</text>
<rect x="598.2" y="657.1" width="621.1" height="59.5" fill="none" stroke="#000" stroke-width="3.4"/>
<circle cx="625.8" cy="688.2" r="10.4" fill="#f9659a" stroke="#2a0a18" stroke-width="1.2"/>
<circle cx="853.1" cy="688.3" r="10.4" fill="#ae07e4" stroke="#2a0a18" stroke-width="1.2"/>
<text transform="translate(664.64 698) scale(1 1.04)" font-size="29.1" font-weight="bold" font-style="normal" fill="#000">Control</text>
<text transform="translate(892.41 698) scale(1 1.04)" font-size="29" font-weight="bold" font-style="normal" fill="#000">Nicotinamide Riboside</text>
</svg>
</body></html>
